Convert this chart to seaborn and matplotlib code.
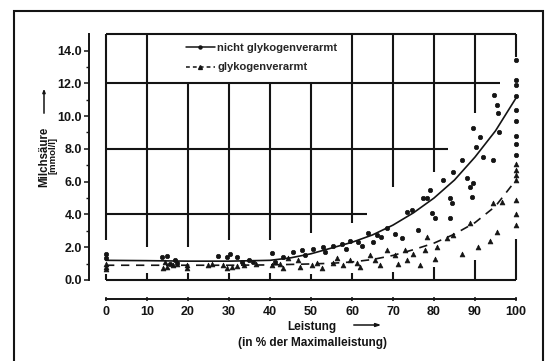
import matplotlib
matplotlib.use("Agg")
import matplotlib.pyplot as plt
from matplotlib.lines import Line2D
from matplotlib.patches import Rectangle, FancyArrowPatch
from matplotlib.ticker import FixedLocator
import pandas as pd
import seaborn as sns

# ---- data -----------------------------------------------------------------
# fitted curves (Leistung in % of max, Milchsäure in mmol/l)
curve_x = [0, 10, 20, 30, 40, 45, 50, 55, 60, 65, 70, 75, 80, 85, 90, 95, 100]
curve_nicht = [1.2, 1.18, 1.15, 1.15, 1.2, 1.35, 1.6, 1.95, 2.3, 2.75, 3.35,
               4.1, 5.0, 6.1, 7.5, 9.1, 11.1]
curve_verarmt = [0.9, 0.9, 0.9, 0.9, 0.92, 0.95, 0.98, 1.02, 1.1, 1.25, 1.5,
                 1.85, 2.25, 2.8, 3.5, 4.5, 6.1]

# single measurements, not glycogen depleted
nicht_x = [0, 0, 13.7, 14.9, 16.8, 17.3, 15.6, 27.3, 29.5, 30.2, 31.9, 33.2,
           34.9, 35.9, 40.5, 41.2, 43.2, 45.6, 47.8, 48.5, 50.5, 52.9, 53.5,
           55.4, 57.6, 58.5, 59.5, 61.5, 62.5, 63.9, 65.0, 66.1, 67.0, 68.5,
           70.5, 72.2, 73.4, 74.6, 76.1, 77.3, 78.3, 79.0, 79.5, 80.2, 82.2,
           83.9, 84.4, 84.6, 86.8, 88.0, 88.8, 89.5, 89.3, 83.9, 92.0, 94.4,
           94.6, 95.4, 95.6, 95.9, 91.2, 89.5, 90.2, 100, 100, 100, 100, 100,
           100, 100, 100, 100]
nicht_y = [1.6, 1.35, 1.4, 1.46, 1.2, 1.05, 1.0, 1.46, 1.4, 1.6, 1.4, 1.1,
           1.2, 1.1, 1.65, 1.1, 1.4, 1.7, 1.83, 1.55, 1.9, 2.0, 1.7,
           2.1, 2.2, 1.9, 2.4, 2.3, 2.05, 2.86, 2.3, 2.74, 2.6, 3.2,
           2.8, 2.56, 4.14, 4.26, 3.04, 5.0, 5.0, 5.5, 4.08, 3.77, 6.1,
           5.0, 4.69, 6.57, 7.3, 6.2, 5.66, 5.9, 5.05, 3.77, 7.5, 7.3,
           11.3, 10.65, 10.2, 9.0, 8.7, 9.25, 8.1, 13.4, 12.2, 11.9, 11.2, 10.4,
           9.7, 8.8, 8.3, 7.6]

# single measurements, glycogen depleted
verarmt_x = [0, 0, 0, 14.4, 16.3, 14.9, 13.9, 17.3, 19.7, 19.7, 24.9, 25.9,
             28.5, 29.5, 30.7, 31.9, 33.7, 36.5, 40.5, 42.4, 43.2, 44.4, 46.8,
             47.3, 50.2, 51.5, 52.7, 55.4, 56.3, 57.8, 59.5, 61.2, 62.0, 64.4,
             65.6, 66.8, 68.5, 70.5, 71.2, 72.9, 73.4, 74.9, 76.6, 77.8, 78.3,
             80.2, 80.7, 83.2, 84.6, 86.8, 88.8, 90.7, 93.7, 95.4, 96.6, 94.4,
             100, 100, 100, 100, 100, 100, 100]
verarmt_y = [1.0, 0.8, 0.65, 1.1, 0.9, 0.8, 0.73, 1.0, 0.73, 0.9, 0.9, 0.97,
             0.9, 0.73, 0.8, 0.85, 0.9, 1.0, 0.9, 1.0, 0.73, 1.34, 1.2,
             0.8, 0.9, 1.03, 0.73, 1.03, 1.34, 0.9, 1.2, 1.03, 0.8, 1.5,
             1.2, 0.9, 1.8, 1.5, 1.0, 1.8, 1.2, 1.6, 0.9, 1.8, 2.6,
             1.3, 2.0, 2.55, 2.75, 1.6, 3.5, 2.0, 2.4, 2.9, 4.75, 4.69,
             7.1, 6.7, 6.4, 6.1, 4.9, 4.0, 3.35]

label_nicht = "nicht glykogenverarmt"
label_verarmt = "glykogenverarmt"
y_ticks = [0, 2, 4, 6, 8, 10, 12, 14]
y_minor = [1, 3, 5, 7, 9, 11, 13]
y_ticklabels = ["0.0", "2.0", "4.0", "6.0", "8.0", "10.0", "12.0", "14.0"]
x_ticks = [0, 10, 20, 30, 40, 50, 60, 70, 80, 90, 100]

# ---- frame of the diagram (drawn in data units) --------------------------
grid_v = [(0, 15.0, 2.45), (10, 15.0, 2.0), (20, 12.0, 2.0), (30, 12.0, 2.45),
          (40, 12.0, 2.45), (50, 12.0, 2.85), (60, 15.0, 3.5), (70, 15.0, 5.65),
          (80, 15.0, 6.6), (90, 15.0, 10.2), (100, 15.0, 13.6)]
grid_h = [(15.0, 0, 100), (12.0, 0, 96.1), (8.0, 0, 83.4), (4.0, 0, 63.7),
          (0.0, 0, 100)]
stubs = [(0, 0.35), (10, 0.4), (20, 0.4), (30, 0.4), (40, 0.4), (50, 0.35),
         (60, 0.4), (70, 0.5), (80, 0.8), (90, 1.2), (100, 2.5)]

# ---- figure ---------------------------------------------------------------
sns.set_theme(style="white")
plt.rcParams["font.family"] = ["Liberation Sans", "DejaVu Sans"]
plt.rcParams["font.weight"] = "bold"

INK = "#141414"
W, H = 548, 361
fig = plt.figure(figsize=(W / 100, H / 100), dpi=100)
fig.patch.set_facecolor("white")

xl, yl = (-8, 104), (-2.0, 15.5)
sx = (516 - 106) / 100
sy = (280 - 50.5) / 14
left_px, right_px = 106 + xl[0] * sx, 106 + xl[1] * sx
top_px, bot_px = 280 - yl[1] * sy, 280 - yl[0] * sy
ax = fig.add_axes([left_px / W, 1 - bot_px / H,
                   (right_px - left_px) / W, (bot_px - top_px) / H])
ax.set_xlim(*xl)
ax.set_ylim(*yl)
ax.set_facecolor("none")

# outer border
fig.patches.append(Rectangle((14 / W, -0.2), (543 - 14) / W, 1.2 - 11 / H,
                             transform=fig.transFigure, fill=False,
                             lw=1.5, ec=INK))

# staircase grid
for x, y0, y1 in grid_v:
    ax.plot([x, x], [y0, y1], color=INK, lw=1.5, solid_capstyle="butt")
for y, x0, x1 in grid_h:
    ax.plot([x0, x1], [y, y], color=INK, lw=1.5, solid_capstyle="butt")
for x, h in stubs:
    ax.plot([x, x], [0, h], color=INK, lw=1.5, solid_capstyle="butt")

# measurements
df_n = pd.DataFrame({"x": nicht_x, "y": nicht_y})
df_v = pd.DataFrame({"x": verarmt_x, "y": verarmt_y})
sns.scatterplot(data=df_n, x="x", y="y", ax=ax, marker="o", s=10,
                color=INK, edgecolor=INK, linewidth=0.5, legend=False, zorder=4)
sns.scatterplot(data=df_v, x="x", y="y", ax=ax, marker="^", s=12,
                color=INK, edgecolor=INK, linewidth=0.5, legend=False, zorder=4)

# regression curves
df_c = pd.DataFrame({"x": curve_x, "n": curve_nicht, "v": curve_verarmt})
sns.lineplot(data=df_c, x="x", y="n", ax=ax, color=INK, lw=1.2, zorder=5)
sns.lineplot(data=df_c, x="x", y="v", ax=ax, color=INK, lw=1.2, zorder=5,
             dashes=False, linestyle=(0, (5, 4)))

# axes
for side in ("top", "right"):
    ax.spines[side].set_visible(False)
ax.spines["left"].set_position(("data", -4.15))
ax.spines["left"].set_bounds(0, 15.0)
ax.spines["bottom"].set_position(("data", -1.16))
ax.spines["bottom"].set_bounds(0, 100)
for side in ("left", "bottom"):
    ax.spines[side].set_color(INK)
    ax.spines[side].set_linewidth(1.4)

ax.yaxis.set_major_locator(FixedLocator(y_ticks))
ax.set_yticklabels(y_ticklabels)
ax.yaxis.set_minor_locator(FixedLocator(y_minor))
ax.xaxis.set_major_locator(FixedLocator(x_ticks))
ax.set_xticklabels([str(v) for v in x_ticks])
ax.tick_params(axis="y", which="major", direction="out", length=3.5,
               width=1.1, color=INK, labelsize=9, pad=1.5, labelcolor=INK,
               left=True)
ax.tick_params(axis="y", which="minor", direction="out", length=2.5,
               width=1.0, color=INK, left=True)
ax.tick_params(axis="x", which="major", direction="inout", length=3,
               width=1.1, color=INK, labelsize=9, pad=3.2, labelcolor=INK,
               bottom=True)
for t in ax.get_xticklabels() + ax.get_yticklabels():
    t.set_fontweight("bold")
ax.set_xlabel("")
ax.set_ylabel("")


def px(x, y):
    return x / W, 1 - y / H


# axis titles with arrows
fig.text(*px(312, 327), "Leistung", ha="center", va="center", fontsize=8.5,
         fontweight="bold", color=INK)
fig.text(*px(312, 343), "(in % der Maximalleistung)", ha="center",
         va="center", fontsize=8.5, fontweight="bold", color=INK)
fig.add_artist(FancyArrowPatch(
    px(351, 325), px(384, 325), transform=fig.transFigure,
    arrowstyle="-|>,head_length=3,head_width=1.0", lw=1.1, color=INK))
fig.text(*px(44, 157), "Milchsäure", ha="center", va="center", rotation=90,
         fontsize=8.3, fontweight="bold", color=INK)
fig.text(*px(53, 155), "[mmol/l]", ha="center", va="center", rotation=90,
         fontsize=6.8, fontweight="bold", color=INK)
fig.add_artist(FancyArrowPatch(
    px(44, 116), px(44, 86), transform=fig.transFigure,
    arrowstyle="-|>,head_length=2,head_width=0.8", lw=1.1, color=INK))

# legend
handles = [
    Line2D([], [], color=INK, lw=1.1, marker="o", markersize=2.2),
    Line2D([], [], color=INK, lw=1.1, linestyle=(0, (2.5, 2)), marker="^",
           markersize=2.8),
]
ax.legend(handles, [label_nicht, label_verarmt], loc="upper left",
          bbox_to_anchor=px(186, 43), bbox_transform=fig.transFigure,
          frameon=False, handlelength=2.6, handletextpad=0.2,
          labelspacing=0.85, borderpad=0, borderaxespad=0,
          prop={"weight": "bold", "size": 8})

fig.savefig("out.png", dpi=100, facecolor="white")
